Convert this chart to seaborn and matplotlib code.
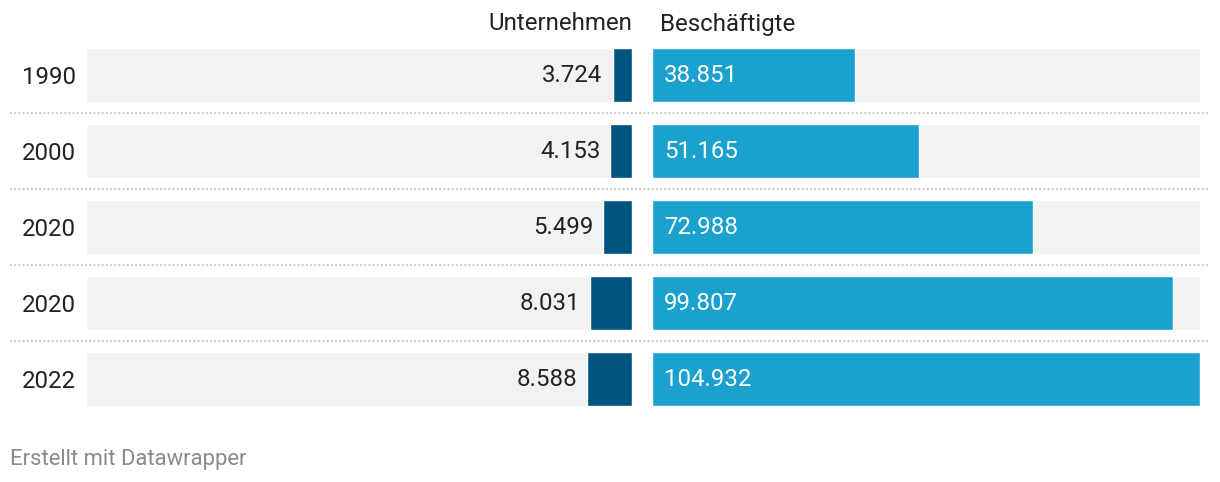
"""
Unternehmen und Beschäftigte, gespiegelte Balken im Datawrapper-Stil.
"""
import matplotlib
matplotlib.use("Agg")
import matplotlib.pyplot as plt
import pandas as pd
import seaborn as sns

sns.set_style("white")
plt.rcParams['font.family'] = ['Roboto', 'DejaVu Sans']

# Daten
years = ["1990", "2000", "2020", "2020", "2022"]
unternehmen = [3724, 4153, 5499, 8031, 8588]
beschaeftigte = [38851, 51165, 72988, 99807, 104932]

DARK = "#00547f"
LIGHT = "#1aa1ce"
BG = "#f2f2f2"
TEXT = "#222222"


def fmt_de(v):
    return f"{v:,}".replace(",", ".")


df = pd.DataFrame({
    "row": range(len(years)),
    "unternehmen": unternehmen,
    "beschaeftigte": beschaeftigte,
})
vmax = max(beschaeftigte)
df["max"] = vmax

W, H = 1220, 482
fig = plt.figure(figsize=(W / 100, H / 100), dpi=100)
bottom = (H - 417) / H
height = 380 / H
ax_l = fig.add_axes([86 / W, bottom, 546 / W, height])
ax_r = fig.add_axes([652 / W, bottom, 548 / W, height])

bar_w = 54 / 76

for ax, col, color in [(ax_l, "unternehmen", DARK), (ax_r, "beschaeftigte", LIGHT)]:
    sns.barplot(data=df, x="max", y="row", orient="h", color=BG, width=bar_w,
                saturation=1, ax=ax)
    sns.barplot(data=df, x=col, y="row", orient="h", color=color, width=bar_w,
                saturation=1, ax=ax)
    ax.set_xlim(0, vmax)
    ax.set_ylim(len(years) - 0.5, -0.5)
    ax.set_xlabel("")
    ax.set_ylabel("")
    ax.set_xticks([])
    ax.patch.set_visible(False)
    for s in ax.spines.values():
        s.set_visible(False)

ax_l.invert_xaxis()
ax_r.set_yticks([])
ax_l.set_yticks(range(len(years)))
ax_l.set_yticklabels(years, fontsize=17.3, color=TEXT)
ax_l.tick_params(axis="y", length=0, pad=7.2)

# Werte
for i, (u, b) in enumerate(zip(unternehmen, beschaeftigte)):
    ax_l.annotate(fmt_de(u), xy=(u, i), xytext=(-10, 0), textcoords="offset pixels",
                  ha="right", va="center", fontsize=17.3, color=TEXT)
    ax_r.annotate(fmt_de(b), xy=(0, i), xytext=(12, 0), textcoords="offset pixels",
                  ha="left", va="center", fontsize=17.3, color="white")

# Trennlinien zwischen den Zeilen
for i in range(len(years) - 1):
    ax_l.axhline(i + 0.5, xmin=(10 - 86) / 546, xmax=(1210 - 86) / 546,
                 color="#cccccc", linewidth=1.5, linestyle=(0, (1, 1)), clip_on=False)

# Überschriften
fig.text(632 / W, 1 - 24 / H, "Unternehmen", ha="right", va="center",
         fontsize=17.3, color=TEXT)
fig.text(660 / W, 1 - 24 / H, "Beschäftigte", ha="left", va="center",
         fontsize=17.3, color=TEXT)

fig.text(10 / W, 1 - 459 / H, "Erstellt mit Datawrapper", ha="left", va="center",
         fontsize=15.8, color="#8a8a8a")

fig.savefig("out.png", dpi=100, facecolor="white")
